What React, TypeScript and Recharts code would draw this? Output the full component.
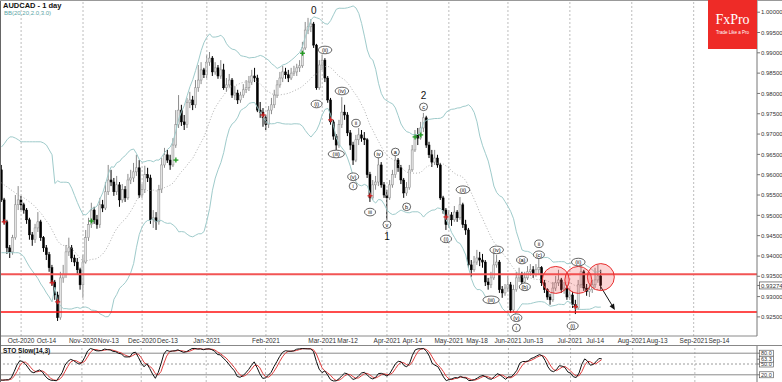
import React from 'react'
import {
  ComposedChart,
  Bar,
  Line,
  XAxis,
  YAxis,
  ReferenceLine,
  ReferenceDot,
} from 'recharts'

// daily calendar: first bar on the chart, plus empty future bars up to the right edge
const FIRST_DAY = '2020-09-22'
const BAR_COUNT = 269

function weekdays(start: string, n: number): string[] {
  const out: string[] = []
  const d = new Date(start + 'T00:00:00Z')
  while (out.length < n) {
    const wd = d.getUTCDay()
    if (wd !== 0 && wd !== 6) out.push(d.toISOString().slice(0, 10))
    d.setUTCDate(d.getUTCDate() + 1)
  }
  return out
}
const DATES = weekdays(FIRST_DAY, BAR_COUNT)

// AUDCAD daily OHLC
const OPEN = [
  0.9612, 0.9538, 0.9484, 0.942, 0.941, 0.9445, 0.9526, 0.9538, 0.9526, 0.9513,
  0.9489, 0.9452, 0.944, 0.9469, 0.9484, 0.9445, 0.942, 0.9403, 0.9371, 0.9336,
  0.9304, 0.9248, 0.9346, 0.9354, 0.941, 0.942, 0.9395, 0.9385, 0.9366, 0.9329,
  0.9385, 0.9445, 0.9477, 0.9513, 0.9489, 0.9477, 0.9526, 0.9518, 0.9558, 0.9587,
  0.9582, 0.9558, 0.9575, 0.9538, 0.9563, 0.9543, 0.9587, 0.9592, 0.9607, 0.9617,
  0.955, 0.9563, 0.96, 0.9592, 0.9489, 0.9494, 0.9484, 0.9563, 0.9624, 0.9649,
  0.9636, 0.9624, 0.9673, 0.9723, 0.9759, 0.973, 0.9723, 0.9777, 0.9784, 0.9772,
  0.9814, 0.9833, 0.9858, 0.9846, 0.9877, 0.9887, 0.9853, 0.9863, 0.9843, 0.9858,
  0.9814, 0.9821, 0.9833, 0.9796, 0.9801, 0.9784, 0.9796, 0.9809, 0.9814, 0.9828,
  0.9843, 0.9838, 0.9759, 0.9754, 0.974, 0.9723, 0.9759, 0.9772, 0.9796, 0.9821,
  0.9838, 0.9853, 0.9846, 0.9838, 0.985, 0.9853, 0.9863, 0.9868, 0.9912, 0.9956,
  0.9964, 0.9971, 0.9919, 0.9814, 0.987, 0.9882, 0.9838, 0.9784, 0.973, 0.9695,
  0.9673, 0.9723, 0.9754, 0.9747, 0.9703, 0.9673, 0.9636, 0.9686, 0.9698, 0.969,
  0.9686, 0.96, 0.9543, 0.9575, 0.9582, 0.9624, 0.9575, 0.955, 0.9543, 0.9575,
  0.96, 0.9636, 0.9617, 0.9587, 0.9555, 0.9568, 0.9612, 0.9661, 0.9698, 0.969,
  0.9715, 0.974, 0.9673, 0.9649, 0.9631, 0.9641, 0.9624, 0.9543, 0.9513, 0.9477,
  0.9501, 0.9489, 0.9508, 0.9494, 0.9526, 0.9477, 0.9464, 0.9378, 0.9366, 0.9385,
  0.9395, 0.939, 0.9385, 0.9336, 0.9329, 0.9346, 0.9378, 0.9385, 0.9317, 0.9309,
  0.9321, 0.9329, 0.9267, 0.9317, 0.9346, 0.9354, 0.9336, 0.9346, 0.9361, 0.9366,
  0.9354, 0.9366, 0.9371, 0.9334, 0.9317, 0.9299, 0.9292, 0.9321, 0.9334, 0.9341,
  0.9317, 0.9321, 0.9299, 0.9304, 0.928, 0.9272, 0.9329, 0.9361, 0.9321, 0.9312,
  0.9317, 0.9329, 0.9341, 0.9351,
]
const HIGH = [
  0.9624, 0.9543, 0.9489, 0.9427, 0.9452, 0.955, 0.9572, 0.9548, 0.9531, 0.9518,
  0.9494, 0.9459, 0.9479, 0.9508, 0.9489, 0.9449, 0.9427, 0.941, 0.9378, 0.9341,
  0.9312, 0.9361, 0.9378, 0.9427, 0.9445, 0.9427, 0.9403, 0.9395, 0.9371, 0.9403,
  0.9464, 0.9494, 0.9531, 0.9521, 0.9501, 0.9543, 0.9538, 0.9582, 0.9624, 0.9612,
  0.9592, 0.9597, 0.9582, 0.9577, 0.9572, 0.9602, 0.9612, 0.9629, 0.9649, 0.9636,
  0.9577, 0.9622, 0.9617, 0.96, 0.9513, 0.9508, 0.9575, 0.9641, 0.9666, 0.9661,
  0.9649, 0.969, 0.9759, 0.9796, 0.9772, 0.9747, 0.9789, 0.9804, 0.9794, 0.9833,
  0.987, 0.9877, 0.9863, 0.9895, 0.9902, 0.9892, 0.9877, 0.987, 0.9882, 0.9873,
  0.9838, 0.9848, 0.9838, 0.9818, 0.9809, 0.9804, 0.9823, 0.9833, 0.9843, 0.9858,
  0.9863, 0.9846, 0.9779, 0.9764, 0.9747, 0.9769, 0.9789, 0.9809, 0.9833, 0.9853,
  0.9868, 0.9863, 0.9858, 0.9863, 0.9868, 0.9873, 0.9882, 0.9927, 0.9976, 0.9986,
  0.9983, 0.9976, 0.9922, 0.9882, 0.9895, 0.9887, 0.9843, 0.9789, 0.9735, 0.97,
  0.9735, 0.9791, 0.9772, 0.9754, 0.971, 0.9681, 0.9698, 0.9715, 0.971, 0.9705,
  0.969, 0.9607, 0.9587, 0.9597, 0.9649, 0.9631, 0.9582, 0.9563, 0.9587, 0.9612,
  0.9649, 0.9641, 0.9624, 0.9592, 0.9582, 0.9624, 0.9673, 0.971, 0.9715, 0.973,
  0.9752, 0.9745, 0.9681, 0.9661, 0.9661, 0.9649, 0.9629, 0.9548, 0.9518, 0.9513,
  0.9508, 0.9523, 0.9513, 0.9545, 0.9531, 0.9489, 0.9469, 0.939, 0.94, 0.9415,
  0.941, 0.9405, 0.939, 0.9346, 0.9361, 0.941, 0.9403, 0.939, 0.9326, 0.9331,
  0.9351, 0.9336, 0.9329, 0.9361, 0.9371, 0.9361, 0.9361, 0.9375, 0.938, 0.9375,
  0.938, 0.9395, 0.9375, 0.9341, 0.9321, 0.9307, 0.9336, 0.9351, 0.9366, 0.9346,
  0.9336, 0.9329, 0.9321, 0.9312, 0.9292, 0.9341, 0.9385, 0.9366, 0.9331, 0.9329,
  0.9341, 0.9371, 0.9378, 0.9366,
]
const LOW = [
  0.9533, 0.9477, 0.9405, 0.9395, 0.9403, 0.944, 0.9513, 0.9513, 0.9504, 0.9479,
  0.944, 0.9425, 0.9432, 0.9459, 0.9437, 0.941, 0.939, 0.9361, 0.9326, 0.9292,
  0.924, 0.9243, 0.9334, 0.9346, 0.94, 0.9385, 0.9375, 0.9356, 0.9317, 0.9297,
  0.9381, 0.9437, 0.9469, 0.9479, 0.9467, 0.9469, 0.9508, 0.9513, 0.955, 0.9572,
  0.9548, 0.955, 0.9521, 0.9531, 0.9533, 0.9538, 0.9577, 0.9582, 0.9597, 0.9543,
  0.9543, 0.9555, 0.9582, 0.9479, 0.9469, 0.9464, 0.9477, 0.9555, 0.9617, 0.9629,
  0.9612, 0.9619, 0.9666, 0.9715, 0.972, 0.971, 0.9715, 0.9764, 0.9759, 0.9764,
  0.9804, 0.9823, 0.9838, 0.9838, 0.9868, 0.9843, 0.9846, 0.9836, 0.9836, 0.9809,
  0.9804, 0.9814, 0.9789, 0.9784, 0.9774, 0.9777, 0.9789, 0.9801, 0.9806, 0.9821,
  0.9828, 0.9754, 0.974, 0.9718, 0.971, 0.9715, 0.9749, 0.9764, 0.9789, 0.9814,
  0.9828, 0.9836, 0.9828, 0.9833, 0.9843, 0.9843, 0.9853, 0.9863, 0.9907, 0.9946,
  0.9951, 0.9912, 0.9809, 0.9809, 0.9858, 0.9828, 0.9777, 0.9723, 0.9686, 0.9661,
  0.9666, 0.9715, 0.9735, 0.9695, 0.9661, 0.9624, 0.9631, 0.9673, 0.9681, 0.9673,
  0.9592, 0.9533, 0.9538, 0.9563, 0.9572, 0.9568, 0.9543, 0.9489, 0.9538, 0.9568,
  0.9592, 0.9607, 0.9577, 0.9543, 0.9548, 0.9563, 0.9607, 0.9656, 0.9673, 0.9686,
  0.9705, 0.9666, 0.9641, 0.9619, 0.9624, 0.9617, 0.9538, 0.9504, 0.9464, 0.9469,
  0.9474, 0.9484, 0.9484, 0.9489, 0.9469, 0.9452, 0.9371, 0.9349, 0.9361, 0.9378,
  0.9375, 0.9371, 0.9326, 0.9317, 0.9321, 0.9341, 0.9371, 0.9309, 0.9297, 0.9302,
  0.9312, 0.926, 0.9262, 0.9312, 0.9336, 0.9326, 0.9329, 0.9341, 0.9351, 0.9346,
  0.9349, 0.9356, 0.9326, 0.9309, 0.9292, 0.928, 0.9287, 0.9314, 0.9326, 0.9309,
  0.9307, 0.9292, 0.9292, 0.9272, 0.9257, 0.9267, 0.9321, 0.9314, 0.9302, 0.9299,
  0.9309, 0.9321, 0.9334, 0.9317,
]
const CLOSE = [
  0.9538, 0.9484, 0.942, 0.941, 0.9445, 0.9526, 0.9538, 0.9526, 0.9513, 0.9489,
  0.9452, 0.944, 0.9469, 0.9484, 0.9445, 0.942, 0.9403, 0.9371, 0.9336, 0.9304,
  0.9248, 0.9346, 0.9354, 0.941, 0.942, 0.9395, 0.9385, 0.9366, 0.9329, 0.9385,
  0.9445, 0.9477, 0.9513, 0.9489, 0.9477, 0.9526, 0.9518, 0.9558, 0.9587, 0.9582,
  0.9558, 0.9575, 0.9538, 0.9563, 0.9543, 0.9587, 0.9592, 0.9607, 0.9617, 0.955,
  0.9563, 0.96, 0.9592, 0.9489, 0.9494, 0.9484, 0.9563, 0.9624, 0.9649, 0.9636,
  0.9624, 0.9673, 0.9723, 0.9759, 0.973, 0.9723, 0.9777, 0.9784, 0.9772, 0.9814,
  0.9833, 0.9858, 0.9846, 0.9877, 0.9887, 0.9853, 0.9863, 0.9843, 0.9858, 0.9814,
  0.9821, 0.9833, 0.9796, 0.9801, 0.9784, 0.9796, 0.9809, 0.9814, 0.9828, 0.9843,
  0.9838, 0.9759, 0.9754, 0.974, 0.9723, 0.9759, 0.9772, 0.9796, 0.9821, 0.9838,
  0.9853, 0.9846, 0.9838, 0.985, 0.9853, 0.9863, 0.9868, 0.9912, 0.9956, 0.9964,
  0.9971, 0.9919, 0.9814, 0.987, 0.9882, 0.9838, 0.9784, 0.973, 0.9695, 0.9673,
  0.9723, 0.9754, 0.9747, 0.9703, 0.9673, 0.9636, 0.9686, 0.9698, 0.969, 0.9686,
  0.96, 0.9543, 0.9575, 0.9582, 0.9624, 0.9575, 0.955, 0.9543, 0.9575, 0.96,
  0.9636, 0.9617, 0.9587, 0.9555, 0.9568, 0.9612, 0.9661, 0.9698, 0.969, 0.9715,
  0.974, 0.9673, 0.9649, 0.9631, 0.9641, 0.9624, 0.9543, 0.9513, 0.9477, 0.9501,
  0.9489, 0.9508, 0.9494, 0.9526, 0.9477, 0.9464, 0.9378, 0.9366, 0.9385, 0.9395,
  0.939, 0.9385, 0.9336, 0.9329, 0.9346, 0.9378, 0.9385, 0.9317, 0.9309, 0.9321,
  0.9329, 0.9267, 0.9317, 0.9346, 0.9354, 0.9336, 0.9346, 0.9361, 0.9366, 0.9354,
  0.9366, 0.9371, 0.9334, 0.9317, 0.9299, 0.9292, 0.9321, 0.9334, 0.9341, 0.9317,
  0.9321, 0.9299, 0.9304, 0.928, 0.9272, 0.9329, 0.9361, 0.9321, 0.9312, 0.9317,
  0.9329, 0.9341, 0.9351, 0.93274,
]

// Bollinger band values for the first bars (their 20-day window starts before the chart)
const BB_LEAD_UP = [
  0.9668, 0.9676, 0.9686, 0.9693, 0.9693, 0.969, 0.9686, 0.9681, 0.9681, 0.9681,
  0.9681, 0.9681, 0.9681, 0.9681, 0.9681, 0.9678, 0.9673, 0.9661, 0.9649,
]
const BB_LEAD_MID = [
  0.958, 0.9575, 0.957, 0.9565, 0.956, 0.9555, 0.955, 0.9545, 0.9543, 0.9538,
  0.9533, 0.9528, 0.9521, 0.9513, 0.9506, 0.9496, 0.9486, 0.9477, 0.9464,
]
const BB_LEAD_LOW = [
  0.9408, 0.9408, 0.9408, 0.9408, 0.9408, 0.9408, 0.9408, 0.9405, 0.9398, 0.9385,
  0.9373, 0.9363, 0.9354, 0.9344, 0.9331, 0.9321, 0.9309, 0.9299, 0.9287,
]

const RESISTANCE = 0.9355
const SUPPORT = 0.9262
const LAST_PRICE = 0.93274
const STO_LAST = 63.3

const PRICE_TICKS = [
  0.925, 0.93, 0.935, 0.94, 0.945, 0.95, 0.955, 0.96, 0.965, 0.97, 0.975, 0.98,
  0.985, 0.99, 0.995, 1.0,
]
const STO_TICKS = [20, 50, 80]

const TICK_DATES = [
  '2020-10-01', '2020-10-14', '2020-11-02', '2020-11-13', '2020-12-01', '2020-12-14',
  '2021-01-01', '2021-02-01', '2021-03-01', '2021-03-12', '2021-04-01', '2021-04-14',
  '2021-05-03', '2021-05-17', '2021-06-01', '2021-06-14', '2021-07-01', '2021-07-14',
  '2021-08-02', '2021-08-13', '2021-09-01', '2021-09-14',
]
const TICK_LABELS = [
  'Oct-2020', 'Oct-14', 'Nov-2020', 'Nov-13', 'Dec-2020', 'Dec-13',
  'Jan-2021', 'Feb-2021', 'Mar-2021', 'Mar-12', 'Apr-2021', 'Apr-14',
  'May-2021', 'May-18', 'Jun-2021', 'Jun-13', 'Jul-2021', 'Jul-14',
  'Aug-2021', 'Aug-13', 'Sep-2021', 'Sep-14',
]
const MONTH_STARTS = [
  '2020-10-01', '2020-11-02', '2020-12-01', '2021-01-01', '2021-02-01', '2021-03-01',
  '2021-04-01', '2021-05-03', '2021-06-01', '2021-07-01', '2021-08-02', '2021-09-01',
]

// Elliott wave marks: [date, price, text, circled]
const WAVES: [string, number, string, boolean][] = [
  ['2021-02-24', 1.0003, '0', false],
  ['2021-02-25', 0.9774, '(i)', true],
  ['2021-03-02', 0.9907, '(ii)', true],
  ['2021-03-08', 0.9651, '(iii)', true],
  ['2021-03-10', 0.9806, '(iv)', true],
  ['2021-03-16', 0.9595, '(v)', true],
  ['2021-03-16', 0.9572, 'i', true],
  ['2021-03-17', 0.9727, 'ii', true],
  ['2021-03-24', 0.9508, 'iii', true],
  ['2021-03-29', 0.9651, 'iv', true],
  ['2021-04-01', 0.9477, 'v', true],
  ['2021-04-01', 0.9447, '1', false],
  ['2021-04-06', 0.9656, 'a', true],
  ['2021-04-12', 0.9521, 'b', true],
  ['2021-04-20', 0.9767, 'c', true],
  ['2021-04-20', 0.9794, '2', false],
  ['2021-04-30', 0.9442, '(i)', true],
  ['2021-05-10', 0.9563, '(ii)', true],
  ['2021-05-24', 0.9292, '(iii)', true],
  ['2021-05-26', 0.9415, '(iv)', true],
  ['2021-06-04', 0.9248, '(v)', true],
  ['2021-06-04', 0.9223, 'i', true],
  ['2021-06-08', 0.939, '(a)', true],
  ['2021-06-09', 0.9324, '(b)', true],
  ['2021-06-16', 0.9403, '(c)', true],
  ['2021-06-16', 0.943, 'ii', true],
  ['2021-07-02', 0.9228, '(i)', true],
  ['2021-07-06', 0.9385, '(ii)', true],
]

const RED_MARKS: [string, number][] = [
  ['2020-09-23', 0.9484], ['2020-10-16', 0.9334], ['2020-10-20', 0.9287],
  ['2021-01-29', 0.9747], ['2021-03-04', 0.9735], ['2021-03-24', 0.9548],
  ['2021-04-30', 0.9496], ['2021-07-05', 0.9275],
]
const GREEN_MARKS: [string, number][] = [
  ['2020-11-05', 0.9486], ['2020-12-17', 0.9636], ['2021-02-18', 0.9899],
  ['2021-04-15', 0.9693], ['2021-04-19', 0.9698],
]
const CIRCLES: [string, number][] = [
  ['2021-06-24', 0.9341], ['2021-07-06', 0.9341], ['2021-07-16', 0.9348],
]
const ARROW: [string, number][] = [['2021-07-16', 0.9324], ['2021-07-23', 0.9267]]

const FONT = '"Liberation Sans", Arial, sans-serif'

// indicators
const bb = CLOSE.map((_, i) => {
  if (i < BB_LEAD_UP.length) return [BB_LEAD_UP[i], BB_LEAD_MID[i], BB_LEAD_LOW[i]]
  const win = CLOSE.slice(i - 19, i + 1)
  const mean = win.reduce((a, b) => a + b, 0) / win.length
  const sd = Math.sqrt(win.reduce((a, b) => a + (b - mean) ** 2, 0) / win.length)
  return [mean + 2 * sd, mean, mean - 2 * sd]
})

const stoNum: number[] = []
const stoDen: number[] = []
CLOSE.forEach((c, i) => {
  const from = Math.max(0, i - 13)
  const lo = Math.min(...LOW.slice(from, i + 1))
  const hi = Math.max(...HIGH.slice(from, i + 1))
  stoNum.push(c - lo)
  stoDen.push(hi - lo)
})
const stoK = CLOSE.map((_, i) => {
  const from = Math.max(0, i - 2)
  const n = stoNum.slice(from, i + 1).reduce((a, b) => a + b, 0)
  const d = stoDen.slice(from, i + 1).reduce((a, b) => a + b, 0)
  return d > 0 ? (n / d) * 100 : 50
})
const stoD = stoK.map((_, i) => {
  const w = stoK.slice(Math.max(0, i - 2), i + 1)
  return w.reduce((a, b) => a + b, 0) / w.length
})

const rows = DATES.map((date, i) => {
  if (i >= CLOSE.length) return { date }
  return {
    date,
    o: OPEN[i],
    h: HIGH[i],
    l: LOW[i],
    c: CLOSE[i],
    hl: [LOW[i], HIGH[i]],
    bbUp: bb[i][0],
    bbMid: bb[i][1],
    bbLow: bb[i][2],
    k: stoK[i],
    d: stoD[i],
  }
})

function Candle(props: any) {
  const { x, y, width, height, payload } = props
  if (!payload || payload.o == null) return null
  const { o, h, l, c } = payload
  const top = Math.min(y, y + height)
  const span = Math.abs(height)
  const k = h - l > 0 ? span / (h - l) : 0
  const py = (v: number) => top + (h - v) * k
  const cx = x + width / 2
  const up = c >= o
  const bTop = py(Math.max(o, c))
  const bBot = py(Math.min(o, c))
  const edge = up ? '#8a8a8a' : '#000'
  return (
    <g>
      <line x1={cx} x2={cx} y1={top} y2={top + span} stroke={edge} strokeWidth={1} />
      <rect
        x={cx - 1}
        y={bTop}
        width={2}
        height={Math.max(bBot - bTop, 0.8)}
        fill={up ? '#e4e4e4' : '#000'}
        stroke={edge}
        strokeWidth={0.5}
      />
    </g>
  )
}

function DateTick({ x, y, payload }: any) {
  const idx = TICK_DATES.indexOf(payload.value)
  return (
    <text x={x} y={y + 7} textAnchor="middle" fontSize={6.5} fill="#333" fontFamily={FONT}>
      {idx >= 0 ? TICK_LABELS[idx] : ''}
    </text>
  )
}

function PriceTick({ x, y, payload }: any) {
  const v = payload.value as number
  const boxed = v === LAST_PRICE
  return (
    <g>
      {boxed && (
        <rect x={x - 1.5} y={y - 3.5} width={23} height={7} fill="#fff" stroke="#333" strokeWidth={0.6} />
      )}
      <text x={x} y={y} dy={2.2} fontSize={6} fill="#333" fontFamily={FONT}>
        {v.toFixed(5)}
      </text>
    </g>
  )
}

function StoTick({ x, y, payload }: any) {
  const v = payload.value as number
  return (
    <g>
      <rect x={x - 1.5} y={y - 3} width={14} height={6} fill="#fff" stroke="#444" strokeWidth={0.6} />
      <text x={x} y={y} dy={2} fontSize={5.5} fill="#333" fontFamily={FONT}>
        {v.toFixed(1)}
      </text>
    </g>
  )
}

function WaveMark({ cx, cy, text, circled }: any) {
  if (!circled) {
    return (
      <text x={cx} y={cy} dy={3.5} textAnchor="middle" fontSize={10} fill="#111" fontFamily={FONT}>
        {text}
      </text>
    )
  }
  const rx = Math.max(4, text.length * 1.3 + 1.6)
  return (
    <g>
      <ellipse cx={cx} cy={cy} rx={rx} ry={3.8} fill="#fff" stroke="#222" strokeWidth={0.7} />
      <text x={cx} y={cy} dy={2} textAnchor="middle" fontSize={5.5} fill="#000" fontFamily={FONT}>
        {text}
      </text>
    </g>
  )
}

function Cross({ cx, cy, color }: any) {
  return (
    <g stroke={color} strokeWidth={1.3}>
      <line x1={cx - 2.5} x2={cx + 2.5} y1={cy} y2={cy} />
      <line x1={cx} x2={cx} y1={cy - 2.5} y2={cy + 2.5} />
    </g>
  )
}

function ArrowShape(props: any) {
  const { x1, y1, x2, y2 } = props
  const a = Math.atan2(y2 - y1, x2 - x1)
  const len = 6
  const w = 2.6
  const bx = x2 - len * Math.cos(a)
  const by = y2 - len * Math.sin(a)
  const pts = [
    [x2, y2],
    [bx + w * Math.sin(a), by - w * Math.cos(a)],
    [bx - w * Math.sin(a), by + w * Math.cos(a)],
  ]
    .map((p) => p.join(','))
    .join(' ')
  return (
    <g>
      <line x1={x1} y1={y1} x2={bx} y2={by} stroke="#111" strokeWidth={1} />
      <polygon points={pts} fill="#111" />
    </g>
  )
}

export default function App() {
  return (
    <div
      style={{
        position: 'fixed',
        left: 0,
        top: 0,
        width: 782,
        height: 382,
        background: '#fff',
        overflow: 'hidden',
        fontFamily: FONT,
      }}
    >
      <ComposedChart
        width={782}
        height={346}
        data={rows}
        margin={{ top: 0, right: 0, bottom: 0, left: 0 }}
      >
        <XAxis
          dataKey="date"
          ticks={TICK_DATES}
          interval={0}
          tick={<DateTick />}
          tickLine={false}
          tickSize={0}
          tickMargin={0}
          height={10}
          axisLine={{ stroke: '#8a8a8a' }}
        />
        <YAxis
          orientation="right"
          type="number"
          domain={[0.9203, 1.003]}
          allowDataOverflow
          ticks={[...PRICE_TICKS, LAST_PRICE]}
          interval={0}
          width={25}
          tick={<PriceTick />}
          tickSize={3}
          tickMargin={1}
          axisLine={{ stroke: '#777' }}
          tickLine={{ stroke: '#777' }}
        />
        {MONTH_STARTS.map((d) => (
          <ReferenceLine key={d} x={d} stroke="#bdbdbd" strokeDasharray="2 2" />
        ))}
        <Bar dataKey={(r: any) => r.hl} shape={<Candle />} isAnimationActive={false} />
        <Line dataKey="bbUp" stroke="#9fcbcb" strokeWidth={1} dot={false} activeDot={false} isAnimationActive={false} />
        <Line dataKey="bbMid" stroke="#9a9a9a" strokeWidth={0.8} strokeDasharray="1 2" dot={false} activeDot={false} isAnimationActive={false} />
        <Line dataKey="bbLow" stroke="#9fcbcb" strokeWidth={1} dot={false} activeDot={false} isAnimationActive={false} />
        <ReferenceLine y={RESISTANCE} stroke="#f25555" strokeWidth={2} />
        <ReferenceLine y={SUPPORT} stroke="#ff1010" strokeWidth={1.6} />
        {CIRCLES.map(([d, p], i) => (
          <ReferenceDot key={'c' + i} x={d} y={p} r={13.5} fill="rgba(240,60,60,0.22)" stroke="#e83030" strokeWidth={1} />
        ))}
        {RED_MARKS.map(([d, p], i) => (
          <ReferenceDot key={'r' + i} x={d} y={p} r={2} shape={(s: any) => <Cross cx={s.cx} cy={s.cy} color="#d42020" />} />
        ))}
        {GREEN_MARKS.map(([d, p], i) => (
          <ReferenceDot key={'g' + i} x={d} y={p} r={2} shape={(s: any) => <Cross cx={s.cx} cy={s.cy} color="#1d9a1d" />} />
        ))}
        {WAVES.map(([d, p, t, circ], i) => (
          <ReferenceDot
            key={'w' + i}
            x={d}
            y={p}
            r={3}
            shape={(s: any) => <WaveMark cx={s.cx} cy={s.cy} text={t} circled={circ} />}
          />
        ))}
        <ReferenceLine
          segment={[
            { x: ARROW[0][0], y: ARROW[0][1] },
            { x: ARROW[1][0], y: ARROW[1][1] },
          ]}
          stroke="#111"
          shape={(s: any) => <ArrowShape {...s} />}
        />
      </ComposedChart>

      <div style={{ position: 'absolute', left: 0, top: 345, width: 782, height: 1, background: '#888' }} />

      <div style={{ position: 'absolute', left: 0, top: 346 }}>
        <ComposedChart
          width={782}
          height={36}
          data={rows}
          margin={{ top: 0, right: 0, bottom: 0, left: 0 }}
        >
          <XAxis dataKey="date" hide />
          <YAxis
            orientation="right"
            type="number"
            domain={[0, 100]}
            ticks={[...STO_TICKS, STO_LAST]}
            interval={0}
            width={25}
            tick={<StoTick />}
            tickSize={3}
            tickMargin={1}
            axisLine={{ stroke: '#777' }}
            tickLine={{ stroke: '#777' }}
          />
          {MONTH_STARTS.map((d) => (
            <ReferenceLine key={d} x={d} stroke="#bdbdbd" strokeDasharray="2 2" />
          ))}
          <ReferenceLine y={80} stroke="#8a8a8a" />
          <ReferenceLine y={50} stroke="#9a9a9a" strokeDasharray="2 2" />
          <ReferenceLine y={20} stroke="#8a8a8a" />
          <Line dataKey="d" stroke="#e04040" strokeWidth={1} dot={false} activeDot={false} isAnimationActive={false} />
          <Line dataKey="k" stroke="#111" strokeWidth={1} dot={false} activeDot={false} isAnimationActive={false} />
        </ComposedChart>
      </div>

      {/* frame */}
      <div style={{ position: 'absolute', left: 0, top: 0, width: 1, height: 382, background: '#666' }} />
      <div style={{ position: 'absolute', left: 0, top: 0, width: 782, height: 1, background: '#999' }} />

      {/* titles */}
      <div style={{ position: 'absolute', left: 3, top: 1, fontSize: 7.5, fontWeight: 'bold', color: '#111' }}>
        AUDCAD - 1 day
      </div>
      <div style={{ position: 'absolute', left: 4, top: 10, fontSize: 6, color: '#5aa6a6' }}>
        BB(20,20,2.0,3.0)
      </div>
      <div style={{ position: 'absolute', left: 3, top: 347, fontSize: 6.5, fontWeight: 'bold', color: '#111' }}>
        STO Slow(14,3)
      </div>

      {/* logo */}
      <div
        style={{
          position: 'absolute',
          left: 708,
          top: 0,
          width: 49,
          height: 49,
          background: '#ee2b27',
          color: '#fff',
          textAlign: 'center',
        }}
      >
        <div style={{ fontFamily: '"Liberation Serif", "DejaVu Serif", serif', fontSize: 14, marginTop: 13, lineHeight: '14px' }}>
          FxPro
        </div>
        <div style={{ fontSize: 4.5, marginTop: 3, lineHeight: '5px' }}>Trade Like a Pro</div>
      </div>
    </div>
  )
}
